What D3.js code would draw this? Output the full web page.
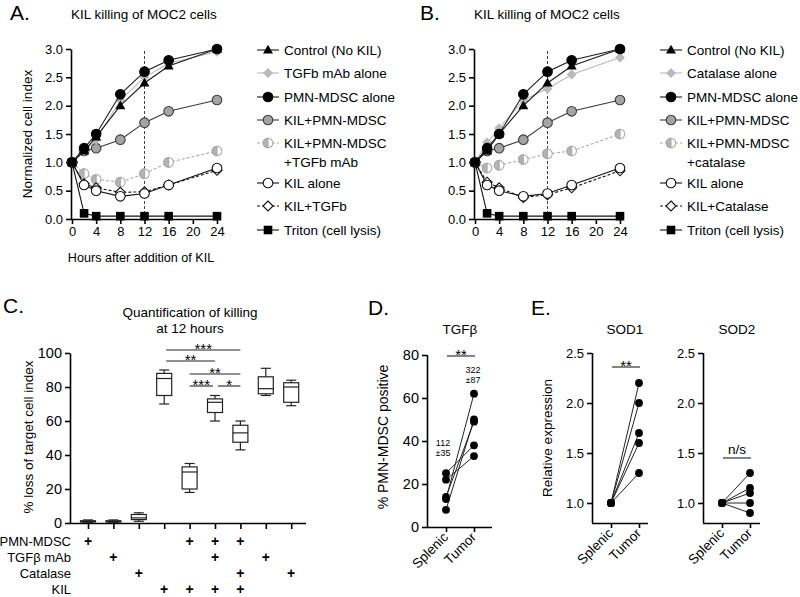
<!DOCTYPE html>
<html><head><meta charset="utf-8">
<script src="https://cdn.jsdelivr.net/npm/d3@7"></script>
<style>body{margin:0;background:#fff} svg text{font-family:Arial,"Liberation Sans",sans-serif;fill:#000}</style>
</head><body><svg id="c" width="800" height="597"></svg>
<script>
// ---------- DATA ----------
const hours = [0, 2, 4, 8, 12, 16, 24];
const hourTicks = [0, 4, 8, 12, 16, 20, 24];
const indexTicks = [0, 0.5, 1.0, 1.5, 2.0, 2.5, 3.0];

const legendA = ["Control (No KIL)", "TGFb mAb alone", "PMN-MDSC alone", "KIL+PMN-MDSC", "KIL+PMN-MDSC|+TGFb mAb", "KIL alone", "KIL+TGFb", "Triton (cell lysis)"];
const legendB = ["Control (No KIL)", "Catalase alone", "PMN-MDSC alone", "KIL+PMN-MDSC", "KIL+PMN-MDSC|+catalase", "KIL alone", "KIL+Catalase", "Triton (cell lysis)"];

const controlA   = [1.0, 1.2, 1.45, 2.0, 2.4, 2.7, 3.0];
const tgfbAloneA = [1.0, 1.2, 1.4, 2.1, 2.5, 2.75, 2.95];
const pmnAloneA  = [1.0, 1.25, 1.5, 2.2, 2.6, 2.8, 3.0];
const kilPmnA    = [1.0, 1.2, 1.25, 1.4, 1.7, 1.9, 2.1];
const kilPmnTgfA = [1.0, 0.8, 0.7, 0.65, 0.8, 1.0, 1.2];
const kilAloneA  = [1.0, 0.6, 0.5, 0.4, 0.45, 0.6, 0.9];
const kilTgfA    = [1.0, 0.62, 0.55, 0.47, 0.48, 0.6, 0.86];
const tritonA    = [1.0, 0.1, 0.05, 0.05, 0.05, 0.05, 0.05];

const controlB   = [1.0, 1.2, 1.5, 2.0, 2.4, 2.7, 3.0];
const catAloneB  = [1.0, 1.35, 1.6, 2.1, 2.3, 2.55, 2.85];
const pmnAloneB  = [1.0, 1.25, 1.5, 2.2, 2.6, 2.8, 3.0];
const kilPmnB    = [1.0, 1.2, 1.25, 1.4, 1.7, 1.9, 2.1];
const kilPmnCatB = [1.0, 0.9, 0.95, 1.05, 1.15, 1.2, 1.5];
const kilAloneB  = [1.0, 0.6, 0.5, 0.4, 0.45, 0.6, 0.9];
const kilCatB    = [1.0, 0.65, 0.55, 0.38, 0.43, 0.55, 0.85];
const tritonB    = [1.0, 0.1, 0.05, 0.05, 0.05, 0.05, 0.05];

// Panel C: box stats [min, q1, median, q3, max]
const quantTicks = [0, 20, 40, 60, 80, 100];
const boxStats = [
  [0.3, 0.6, 1, 1.3, 1.8],
  [0.3, 0.6, 1, 1.3, 1.8],
  [1, 2, 3, 5, 6],
  [70, 75, 85, 88, 90],
  [18, 20, 30, 33, 35],
  [60, 65, 71, 73, 75],
  [43, 47.5, 53, 57.5, 60],
  [75, 76, 79, 86, 91],
  [69, 71, 80, 82.5, 84]
];
const conditionRows = ["PMN-MDSC", "TGFβ mAb", "Catalase", "KIL"];
const conditionPlus = [
  [1, 5, 6, 7],
  [2, 6, 8],
  [3, 7, 9],
  [4, 5, 6, 7]
];
// comparisons: [from, to, label]
const comparisons = [
  [4, 7, "***"],
  [4, 6, "**"],
  [5, 7, "**"],
  [5, 6, "***"],
  [6, 7, "*"]
];

// Panel D
const pairGroups = ["Splenic", "Tumor"];
const tgfbSplenic = [25, 22, 14, 13, 8];
const tgfbTumor   = [38, 33, 49, 62, 50];
const tgfbTicks = [0, 20, 40, 60, 80];
const tgfbNotes = [["112", "±35"], ["322", "±87"]];

// Panel E
const sod1Splenic = [1, 1, 1, 1, 1];
const sod1Tumor   = [2.2, 2.0, 1.7, 1.6, 1.3];
const sod2Splenic = [1, 1, 1, 1, 1];
const sod2Tumor   = [1.3, 1.15, 1.1, 1.0, 0.9];
const sodTicks = [1.0, 1.5, 2.0, 2.5];

// ---------- DRAWING ----------
const svg = d3.select("#c");

function styleAxis(g, fs) {
  g.select(".domain").attr("stroke", "#000").attr("stroke-width", 1.6);
  g.selectAll(".tick line").attr("stroke", "#000").attr("stroke-width", 1.6);
  g.selectAll(".tick text").attr("font-size", fs).attr("fill", "#000")
    .style("font-family", "Arial, 'Liberation Sans', sans-serif");
}

function text(x, y, s, fs, anchor, extra) {
  const t = svg.append("text").attr("x", x).attr("y", y).attr("font-size", fs)
    .attr("text-anchor", anchor || "start").text(s);
  if (extra) extra(t);
  return t;
}

const styles = [
  {shape: "tri",  fill: "#000",    stroke: "#000",    line: "#1a1a1a", dash: null},
  {shape: "dia",  fill: "#b9b9b9", stroke: "#b9b9b9", line: "#b9b9b9", dash: null},
  {shape: "circ", fill: "#000",    stroke: "#000",    line: "#1a1a1a", dash: null},
  {shape: "circ", fill: "#a4a4a4", stroke: "#3a3a3a", line: "#3a3a3a", dash: null},
  {shape: "half", fill: "#b3b3b3", stroke: "#a8a8a8", line: "#aaaaaa", dash: "3,2"},
  {shape: "circ", fill: "#fff",    stroke: "#111",    line: "#111",    dash: null},
  {shape: "dia",  fill: "#fff",    stroke: "#111",    line: "#111",    dash: "3,2"},
  {shape: "sq",   fill: "#000",    stroke: "#000",    line: "#111",    dash: null}
];

function drawMarker(g, st, cx, cy) {
  const r = 4.8;
  if (st.shape === "circ") {
    g.append("circle").attr("cx", cx).attr("cy", cy).attr("r", r)
      .attr("fill", st.fill).attr("stroke", st.stroke).attr("stroke-width", 1.1);
  } else if (st.shape === "half") {
    g.append("circle").attr("cx", cx).attr("cy", cy).attr("r", r)
      .attr("fill", "#fff").attr("stroke", st.stroke).attr("stroke-width", 1.1);
    g.append("path").attr("d", `M${cx},${cy - r}A${r},${r} 0 0 0 ${cx},${cy + r}Z`)
      .attr("fill", st.fill).attr("stroke", st.stroke).attr("stroke-width", 1.1);
  } else if (st.shape === "sq") {
    g.append("rect").attr("x", cx - 4.3).attr("y", cy - 4.3).attr("width", 8.6).attr("height", 8.6)
      .attr("fill", st.fill);
  } else if (st.shape === "tri") {
    g.append("path").attr("d", `M${cx},${cy - 5.2}L${cx + 5},${cy + 3.6}L${cx - 5},${cy + 3.6}Z`)
      .attr("fill", st.fill);
  } else if (st.shape === "dia") {
    const d = st.fill === "#fff" ? 5 : 4.2;
    g.append("path").attr("d", `M${cx},${cy - d}L${cx + d},${cy}L${cx},${cy + d}L${cx - d},${cy}Z`)
      .attr("fill", st.fill).attr("stroke", st.stroke).attr("stroke-width", 1.1);
  }
}

function linePanel(ox, series, names, letter, letterX, showXTitle) {
  const x = d3.scaleLinear().domain([0, 24]).range([ox + 1, ox + 146]);
  const y = d3.scaleLinear().domain([0, 3]).range([219, 49]);

  text(ox, 19, "KIL killing of MOC2 cells", 13.5, "start");
  text(letterX, 20, letter, 21, "start");

  // dashed line at 12 h
  svg.append("line").attr("x1", x(12)).attr("x2", x(12)).attr("y1", y(0)).attr("y2", y(3))
    .attr("stroke", "#444").attr("stroke-width", 1).attr("stroke-dasharray", "3,2");

  const gy = svg.append("g").attr("transform", `translate(${ox},0)`)
    .call(d3.axisLeft(y).tickValues(indexTicks).tickFormat(d3.format(".1f")).tickSize(5).tickPadding(3).tickSizeOuter(0));
  styleAxis(gy, 13);
  const gx = svg.append("g").attr("transform", `translate(0,${y(0)})`)
    .call(d3.axisBottom(x).tickValues(hourTicks).tickSize(5).tickPadding(3).tickSizeOuter(0));
  styleAxis(gx, 13);
  gx.select(".domain").attr("d", `M${ox},0.5H${x(24)}`);

  const line = d3.line().x((d, i) => x(hours[i])).y(d => y(d));
  const order = [4, 3, 1, 0, 2, 6, 5, 7];
  order.forEach(k => {
    const st = styles[k];
    const g = svg.append("g");
    g.append("path").attr("d", line(series[k])).attr("fill", "none")
      .attr("stroke", st.line).attr("stroke-width", 1.1)
      .attr("stroke-dasharray", st.dash);
    series[k].forEach((v, i) => drawMarker(g, st, x(hours[i]), y(v)));
  });

  // legend
  const rowsY = [50, 73, 97, 120, 143, 183, 206, 230];
  names.forEach((n, k) => {
    const st = styles[k];
    const cy = rowsY[k];
    svg.append("line").attr("x1", ox + 186).attr("x2", ox + 208).attr("y1", cy).attr("y2", cy)
      .attr("stroke", st.line).attr("stroke-width", 1.1).attr("stroke-dasharray", st.dash);
    drawMarker(svg.append("g"), st, ox + 197, cy);
    n.split("|").forEach((part, j) => text(ox + 213, cy + 5 + j * 19, part, 13.5, "start"));
  });

  if (showXTitle) text((ox + x(24)) / 2 - 3, 262, "Hours after addition of KIL", 12.6, "middle");
}

linePanel(71, [controlA, tgfbAloneA, pmnAloneA, kilPmnA, kilPmnTgfA, kilAloneA, kilTgfA, tritonA], legendA, "A.", 10, true);
linePanel(474, [controlB, catAloneB, pmnAloneB, kilPmnB, kilPmnCatB, kilAloneB, kilCatB, tritonB], legendB, "B.", 420, false);

// y title A
text(0, 0, "Normalized cell index", 13.5, "middle", t => t.attr("transform", "translate(32,134) rotate(-90)"));

// ---------- Panel C ----------
(function () {
  const ox = 70;
  const y = d3.scaleLinear().domain([0, 100]).range([523, 353]);
  const x = d3.scaleLinear().domain([1, 9]).range([88, 291.2]);
  text(3, 313, "C.", 21, "start");
  text(190, 317, "Quantification of killing", 13.5, "middle");
  text(190, 333, "at 12 hours", 13.5, "middle");
  text(0, 0, "% loss of target cell index", 13.5, "middle", t => t.attr("transform", "translate(33,437) rotate(-90)"));

  const gy = svg.append("g").attr("transform", `translate(${ox},0)`)
    .call(d3.axisLeft(y).tickValues(quantTicks).tickSize(5).tickPadding(3).tickSizeOuter(0));
  styleAxis(gy, 14.5);
  const cats = d3.range(1, 10);
  const gx = svg.append("g").attr("transform", `translate(0,${y(0)})`)
    .call(d3.axisBottom(x).tickValues(cats).tickSize(6).tickFormat(""));
  styleAxis(gx, 13);
  gx.select(".domain").attr("d", `M${ox},0.5H306`);

  const bw = 15, cw = 10;
  boxStats.forEach((b, i) => {
    const cx = x(i + 1);
    const g = svg.append("g").attr("stroke", "#222").attr("stroke-width", 1.2).attr("fill", "none");
    g.append("line").attr("x1", cx).attr("x2", cx).attr("y1", y(b[4])).attr("y2", y(b[3]));
    g.append("line").attr("x1", cx).attr("x2", cx).attr("y1", y(b[1])).attr("y2", y(b[0]));
    g.append("line").attr("x1", cx - cw / 2).attr("x2", cx + cw / 2).attr("y1", y(b[4])).attr("y2", y(b[4]));
    g.append("line").attr("x1", cx - cw / 2).attr("x2", cx + cw / 2).attr("y1", y(b[0])).attr("y2", y(b[0]));
    g.append("rect").attr("x", cx - bw / 2).attr("y", y(b[3])).attr("width", bw).attr("height", Math.max(1, y(b[1]) - y(b[3])))
      .attr("fill", "#fff");
    g.append("line").attr("x1", cx - bw / 2).attr("x2", cx + bw / 2).attr("y1", y(b[2])).attr("y2", y(b[2]));
  });

  const levelY = [350, 361, 374, 386, 386];
  comparisons.forEach((c, k) => {
    let x1 = x(c[0]), x2 = x(c[1]);
    if (k === 3) x2 -= 2;
    if (k === 4) x1 += 3;
    if (k === 0 || k === 1) x1 += 2;
    const ly = levelY[k];
    svg.append("line").attr("x1", x1).attr("x2", x2).attr("y1", ly).attr("y2", ly)
      .attr("stroke", "#222").attr("stroke-width", 1.1);
    text((x1 + x2) / 2, ly + 4, c[2], 15, "middle");
  });

  const rowBase = [546, 562, 578, 594];
  conditionRows.forEach((r, k) => {
    text(71, rowBase[k], r, 13, "end");
    conditionPlus[k].forEach(ci => text(x(ci), rowBase[k], "+", 14, "middle", t => t.attr("font-weight", "bold")));
  });
})();

// ---------- Paired panels ----------
function pairedPanel(ox, xEnd, y, ticks, fmt, splenic, tumor, title, titleX, sig, sigY, tickFs) {
  const x = d3.scalePoint().domain(pairGroups).range([ox + 19, ox + 47]);
  const gy = svg.append("g").attr("transform", `translate(${ox},0)`)
    .call(d3.axisLeft(y).tickValues(ticks).tickFormat(fmt).tickSize(5).tickPadding(3).tickSizeOuter(0));
  styleAxis(gy, tickFs);
  gy.select(".domain").attr("d", `M0.5,${y.range()[0]}V${y.range()[1]}`);
  const by = y.range()[0];
  const gx = svg.append("g").attr("transform", `translate(0,${by})`)
    .call(d3.axisBottom(x).tickSize(5).tickFormat(""));
  styleAxis(gx, 13);
  gx.select(".domain").attr("d", `M${ox},0.5H${xEnd}`);
  pairGroups.forEach(p => text(x(p) + 3, by + 11, p, 13.5, "end",
    t => t.attr("transform", `rotate(-45,${x(p) + 3},${by + 11})`)));

  splenic.forEach((s, i) => {
    svg.append("line").attr("x1", x("Splenic")).attr("x2", x("Tumor"))
      .attr("y1", y(s)).attr("y2", y(tumor[i])).attr("stroke", "#222").attr("stroke-width", 1);
  });
  splenic.forEach(s => svg.append("circle").attr("cx", x("Splenic")).attr("cy", y(s)).attr("r", 3.9).attr("fill", "#000"));
  tumor.forEach(s => svg.append("circle").attr("cx", x("Tumor")).attr("cy", y(s)).attr("r", 3.9).attr("fill", "#000"));

  text(titleX, 334, title, 13.5, "middle");
  const x1 = x("Splenic") + 1, x2 = x("Tumor") + 1;
  svg.append("line").attr("x1", x1).attr("x2", x2).attr("y1", sigY).attr("y2", sigY)
    .attr("stroke", "#222").attr("stroke-width", 1.1);
  if (sig === "n/s") text((x1 + x2) / 2, sigY - 4, sig, 13.5, "middle");
  else text((x1 + x2) / 2, sigY + 4, sig, 15, "middle");
  return x;
}

// Panel D
(function () {
  const y = d3.scaleLinear().domain([0, 80]).range([527, 355]);
  text(368, 315, "D.", 21, "start");
  text(0, 0, "% PMN-MDSC positive", 14, "middle", t => t.attr("transform", "translate(388,437) rotate(-90)"));
  const x = pairedPanel(427, 492, y, tgfbTicks, d3.format("d"), tgfbSplenic, tgfbTumor, "TGFβ", 460, "**", 356, 14.5);
  text(x("Splenic") - 3, 446, tgfbNotes[0][0], 9, "middle");
  text(x("Splenic") - 3, 456, tgfbNotes[0][1], 9, "middle");
  text(x("Tumor") - 1, 373, tgfbNotes[1][0], 9, "middle");
  text(x("Tumor") - 1, 383, tgfbNotes[1][1], 9, "middle");
})();

// Panel E
(function () {
  const y = d3.scaleLinear().domain([0.8, 2.5]).range([523, 353]);
  text(531, 315, "E.", 21, "start");
  text(0, 0, "Relative expression", 13.5, "middle", t => t.attr("transform", "translate(552,438) rotate(-90)"));
  pairedPanel(592, 648, y, sodTicks, d3.format(".1f"), sod1Splenic, sod1Tumor, "SOD1", 625, "**", 367, 13);
  pairedPanel(703, 760, y, sodTicks, d3.format(".1f"), sod2Splenic, sod2Tumor, "SOD2", 737, "n/s", 458, 13);
})();
</script></body></html>
